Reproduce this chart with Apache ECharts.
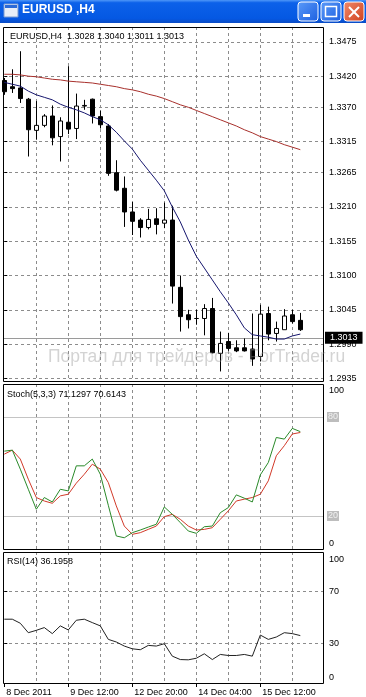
<!DOCTYPE html>
<html><head><meta charset="utf-8">
<script src="https://cdn.jsdelivr.net/npm/echarts@6/dist/echarts.min.js"></script>
<style>html,body{margin:0;padding:0;background:#fff;overflow:hidden}#c{width:366px;height:697px}</style>
</head><body><div id="c"></div>
<script>
// ---------------- data ----------------
const windowTitle = 'EURUSD ,H4';
const symbolName = 'EURUSD,H4';
const times = ['2011.12.08 04:00','2011.12.08 08:00','2011.12.08 12:00','2011.12.08 16:00','2011.12.08 20:00',
 '2011.12.09 00:00','2011.12.09 04:00','2011.12.09 08:00','2011.12.09 12:00','2011.12.09 16:00','2011.12.09 20:00',
 '2011.12.12 00:00','2011.12.12 04:00','2011.12.12 08:00','2011.12.12 12:00','2011.12.12 16:00','2011.12.12 20:00',
 '2011.12.13 00:00','2011.12.13 04:00','2011.12.13 08:00','2011.12.13 12:00','2011.12.13 16:00','2011.12.13 20:00',
 '2011.12.14 00:00','2011.12.14 04:00','2011.12.14 08:00','2011.12.14 12:00','2011.12.14 16:00','2011.12.14 20:00',
 '2011.12.15 00:00','2011.12.15 04:00','2011.12.15 08:00','2011.12.15 12:00','2011.12.15 16:00','2011.12.15 20:00',
 '2011.12.16 00:00','2011.12.16 04:00','2011.12.16 08:00'];
const opens  = [1.3413,1.3403,1.3401,1.3383,1.3333,1.3341,1.3356,1.3323,1.3346,1.3336,1.3372,1.3383,1.3355,1.3340,1.3265,1.3240,1.3202,1.3189,1.3177,1.3191,1.3184,1.3189,1.3081,1.3037,1.3031,1.3031,1.3047,1.2975,1.2994,1.2984,1.2984,1.2982,1.2970,1.3039,1.3007,1.3013,1.3037,1.3028];
const highs  = [1.3417,1.3431,1.3460,1.3385,1.3380,1.3359,1.3373,1.3354,1.3436,1.3392,1.3382,1.3384,1.3365,1.3343,1.3285,1.3259,1.3218,1.3192,1.3207,1.3208,1.3217,1.3212,1.3100,1.3045,1.3045,1.3054,1.3064,1.3010,1.3008,1.2996,1.2999,1.3039,1.3053,1.3050,1.3026,1.3046,1.3045,1.3040];
const lows   = [1.3390,1.3393,1.3377,1.3291,1.3318,1.3338,1.3309,1.3283,1.3327,1.3319,1.3366,1.3344,1.3336,1.3260,1.3235,1.3178,1.3165,1.3161,1.3174,1.3166,1.3176,1.3055,1.3010,1.3015,1.3021,1.3004,1.2975,1.2946,1.2979,1.2977,1.2978,1.2955,1.2962,1.2996,1.2994,1.3013,1.3023,1.3011];
const closes = [1.3395,1.3400,1.3384,1.3334,1.3341,1.3356,1.3321,1.3348,1.3335,1.3372,1.3373,1.3356,1.3342,1.3264,1.3237,1.3202,1.3187,1.3177,1.3190,1.3182,1.3189,1.3083,1.3034,1.3029,1.3031,1.3047,1.2976,1.2991,1.2983,1.2979,1.2979,1.2966,1.3038,1.3006,1.3015,1.3035,1.3026,1.3013];
const maFast = [1.3410,1.3407,1.3404,1.3396,1.3390,1.3386,1.3382,1.3375,1.3370,1.3366,1.3361,1.3355,1.3350,1.3342,1.3330,1.3316,1.3303,1.3285,1.3269,1.3253,1.3236,1.3210,1.3186,1.3157,1.3131,1.3112,1.3093,1.3074,1.3056,1.3037,1.3016,1.3005,1.3003,1.3001,1.2998,1.2998,1.3003,1.3006];
const maSlow = [1.3423,1.3423,1.3422,1.3420,1.3419,1.3417,1.3415,1.3414,1.3412,1.3411,1.3410,1.3409,1.3407,1.3405,1.3403,1.3400,1.3398,1.3395,1.3391,1.3388,1.3384,1.3379,1.3374,1.3370,1.3365,1.3360,1.3355,1.3350,1.3345,1.3340,1.3334,1.3329,1.3323,1.3319,1.3315,1.3310,1.3306,1.3302];
const stochK = [59.3,59.9,48.4,36.2,24.1,31.2,28.5,36.2,35.2,50.4,50.4,54.5,45.3,26.5,7.9,6.8,9.9,11.5,13.3,15.0,25.5,21.0,16.0,10.9,9.5,13.5,13.9,22.0,25.1,32.8,30.8,28.5,44.9,52.4,67.6,66.6,73.1,71.1297];
const stochD = [57.5,59.9,54.5,42.3,31.2,29.1,27.7,32.2,33.2,39.9,45.3,51.4,48.4,40.3,26.1,13.9,8.9,9.9,11.9,13.9,19.6,21.0,18.0,13.9,11.5,11.9,12.9,18.0,23.1,29.1,30.2,31.2,33.2,41.3,56.5,62.6,69.7,70.6143];
const rsi14  = [48.7,48.7,45.6,38.4,40.2,42.3,37.7,43.6,40.5,47.9,48.7,46.1,43.6,33.3,31.3,28.2,26.1,25.4,28.7,28.2,30.0,20.5,17.9,17.7,18.9,22.3,17.9,21.8,21.0,21.0,21.8,20.5,36.6,33.3,35.1,38.4,37.7,36.1958];
const priceTicks = [1.2935,1.2990,1.3045,1.3100,1.3155,1.3210,1.3265,1.3315,1.3370,1.3420,1.3475];
const stochLevels = [20, 80];
const stochLabels = [0, 100];
const rsiLevels = [30, 70];
const rsiLabels = [0, 30, 70, 100];
const gridBars = [4, 8, 12, 16, 20, 24, 28, 32, 36];
const timeTickIdx = [0, 8, 16, 24, 32];
const timeTickLabels = ['8 Dec 2011','9 Dec 12:00','12 Dec 20:00','14 Dec 04:00','15 Dec 12:00'];
const stochName = 'Stoch(5,3,3)';
const rsiName = 'RSI(14)';
const watermark = 'Портал для трейдеров - ForTrader.ru';

// ---------------- layout ----------------
const FONT = '"Liberation Sans", Arial, sans-serif';
const PL = 3, PW = 320;            // plot left/width
const P1 = {top: 27, h: 354}, P2 = {top: 384, h: 165}, P3 = {top: 552, h: 131};
const BAR = 8;                      // px per bar
const xMin = -(1.3 / BAR), xMax = xMin + PW / BAR;
const yMin = 1.293067, yMax = 1.349888;
const gridLine = {show: true, lineStyle: {color: '#8c8c8c', type: [3, 3], width: 1}};

const last = opens.length - 1;
const candleData = times.map((t, i) => [i, opens[i], closes[i], lows[i], highs[i]]);
const pairs = arr => arr.map((v, i) => [i, v]);

function hiddenX(gi) {
  return {type: 'value', gridIndex: gi, min: xMin, max: xMax, position: 'bottom',
    axisLine: {show: false}, axisLabel: {show: false},
    axisTick: {show: false, customValues: gridBars}, splitLine: gridLine};
}
const lbl = {color: '#000', fontSize: 9, fontFamily: FONT};

const option = {
  animation: false,
  backgroundColor: '#ffffff',
  grid: [
    {left: PL, width: PW, top: P1.top, height: P1.h, outerBoundsMode: 'none'},
    {left: PL, width: PW, top: P2.top, height: P2.h, outerBoundsMode: 'none'},
    {left: PL, width: PW, top: P3.top, height: P3.h, outerBoundsMode: 'none'}
  ],
  xAxis: [
    hiddenX(0), hiddenX(1), hiddenX(2),
    {type: 'value', gridIndex: 2, min: xMin, max: xMax, position: 'bottom',
      axisLine: {show: false}, splitLine: {show: false},
      axisTick: {show: true, customValues: timeTickIdx, length: 4, lineStyle: {color: '#000'}},
      axisLabel: Object.assign({customValues: timeTickIdx, align: 'left', margin: 5, padding: [0, 0, 0, 2],
        formatter: v => timeTickLabels[timeTickIdx.indexOf(Math.round(v))] || ''}, lbl)}
  ],
  yAxis: [
    {type: 'value', gridIndex: 0, position: 'right', min: yMin, max: yMax,
      axisLine: {show: false},
      axisTick: {show: true, customValues: priceTicks, length: 3, lineStyle: {color: '#000'}},
      axisLabel: Object.assign({customValues: priceTicks, margin: 6, formatter: v => v.toFixed(4)}, lbl),
      splitLine: gridLine},
    {type: 'value', gridIndex: 1, position: 'right', min: 0, max: 100,
      axisLine: {show: false}, axisTick: {show: false, customValues: stochLabels},
      axisLabel: Object.assign({customValues: stochLabels, margin: 6, padding: [2, 0, 1, 0],
        verticalAlignMaxLabel: 'top', verticalAlignMinLabel: 'bottom'}, lbl),
      splitLine: {show: false}},
    {type: 'value', gridIndex: 2, position: 'right', min: 0, max: 100,
      axisLine: {show: false},
      axisTick: {show: true, customValues: rsiLevels, length: 3, lineStyle: {color: '#000'}},
      axisLabel: Object.assign({customValues: rsiLabels, margin: 6, padding: [3, 0, 1, 0],
        verticalAlignMaxLabel: 'top', verticalAlignMinLabel: 'bottom'}, lbl),
      splitLine: gridLine}
  ],
  series: [
    {type: 'candlestick', xAxisIndex: 0, yAxisIndex: 0, barWidth: 5, z: 2,
      dimensions: ['idx', 'open', 'close', 'low', 'high'],
      encode: {x: 'idx', y: ['open', 'close', 'low', 'high']},
      data: candleData,
      itemStyle: {color: '#ffffff', color0: '#000000', borderColor: '#000000', borderColor0: '#000000', borderWidth: 1},
      markLine: {silent: true, symbol: ['none', 'none'], z: 1,
        lineStyle: {color: '#9a9a9a', type: 'solid', width: 1},
        label: {show: true, position: 'end', distance: 2, formatter: closes[last].toFixed(4),
          color: '#fff', backgroundColor: '#000', padding: [2, 5, 1, 5], fontSize: 9, fontFamily: FONT},
        data: [{yAxis: closes[last]}]}},
    {type: 'line', xAxisIndex: 0, yAxisIndex: 0, data: pairs(maSlow), showSymbol: false, z: 3,
      lineStyle: {color: '#a8302c', width: 1}},
    {type: 'line', xAxisIndex: 0, yAxisIndex: 0, data: pairs(maFast), showSymbol: false, z: 3,
      lineStyle: {color: '#16166e', width: 1}},
    {type: 'line', xAxisIndex: 1, yAxisIndex: 1, data: pairs(stochD), showSymbol: false, z: 3,
      lineStyle: {color: '#d23a2a', width: 1}},
    {type: 'line', xAxisIndex: 1, yAxisIndex: 1, data: pairs(stochK), showSymbol: false, z: 4,
      lineStyle: {color: '#2a8a2a', width: 1},
      markLine: {silent: true, symbol: ['none', 'none'], z: 1,
        lineStyle: {color: '#c4c4c4', type: 'solid', width: 1},
        label: {show: true, position: 'end', distance: 4, color: '#f2f2f2', backgroundColor: '#bdbdbd',
          padding: [1, 1, 0, 1], fontSize: 9, fontFamily: FONT},
        data: stochLevels.map(v => ({yAxis: v}))}},
    {type: 'line', xAxisIndex: 2, yAxisIndex: 2, data: pairs(rsi14), showSymbol: false, z: 3,
      lineStyle: {color: '#222222', width: 1}}
  ],
  graphic: [
    // window title bar
    {type: 'rect', z: 50, shape: {x: 0, y: 0, width: 366, height: 23},
      style: {fill: new echarts.graphic.LinearGradient(0, 0, 0, 1, [
        {offset: 0, color: '#4f97f8'}, {offset: 0.12, color: '#0c61e9'},
        {offset: 0.8, color: '#0558e3'}, {offset: 1, color: '#0a4cc6'}])}},
    {type: 'rect', z: 51, shape: {x: 4, y: 4, width: 14, height: 13},
      style: {fill: '#e8eef8', stroke: '#7a9ad0', lineWidth: 1}},
    {type: 'rect', z: 52, shape: {x: 5, y: 5, width: 12, height: 3}, style: {fill: '#2a6ad8'}},
    {type: 'text', z: 51, left: 22, top: 4,
      style: {text: windowTitle, fill: '#ffffff', font: 'bold 12px "Liberation Sans", Arial, sans-serif'}},
    // buttons
    {type: 'rect', z: 51, shape: {x: 298, y: 2, width: 20, height: 19, r: 3},
      style: {fill: new echarts.graphic.LinearGradient(0, 0, 1, 1, [{offset: 0, color: '#5b9bf9'}, {offset: 1, color: '#1c5fe0'}]), stroke: '#ffffff', lineWidth: 1}},
    {type: 'rect', z: 52, shape: {x: 303, y: 14, width: 7, height: 3}, style: {fill: '#ffffff'}},
    {type: 'rect', z: 51, shape: {x: 321, y: 2, width: 20, height: 19, r: 3},
      style: {fill: new echarts.graphic.LinearGradient(0, 0, 1, 1, [{offset: 0, color: '#5b9bf9'}, {offset: 1, color: '#1c5fe0'}]), stroke: '#ffffff', lineWidth: 1}},
    {type: 'rect', z: 52, shape: {x: 325.5, y: 6.5, width: 11, height: 10}, style: {fill: 'none', stroke: '#ffffff', lineWidth: 1.5}},
    {type: 'rect', z: 51, shape: {x: 344, y: 2, width: 20, height: 19, r: 3},
      style: {fill: new echarts.graphic.LinearGradient(0, 0, 1, 1, [{offset: 0, color: '#f08a6a'}, {offset: 1, color: '#d0401c'}]), stroke: '#ffffff', lineWidth: 1}},
    {type: 'line', z: 52, shape: {x1: 349, y1: 7, x2: 359, y2: 17}, style: {stroke: '#ffffff', lineWidth: 2}},
    {type: 'line', z: 52, shape: {x1: 359, y1: 7, x2: 349, y2: 17}, style: {stroke: '#ffffff', lineWidth: 2}},
    // pane borders
    {type: 'rect', z: 60, shape: {x: PL + 0.5, y: P1.top + 0.5, width: PW, height: P1.h}, style: {fill: 'none', stroke: '#000', lineWidth: 1}},
    {type: 'rect', z: 60, shape: {x: PL + 0.5, y: P2.top + 0.5, width: PW, height: P2.h}, style: {fill: 'none', stroke: '#000', lineWidth: 1}},
    {type: 'rect', z: 60, shape: {x: PL + 0.5, y: P3.top + 0.5, width: PW, height: P3.h}, style: {fill: 'none', stroke: '#000', lineWidth: 1}},
    // pane captions
    {type: 'text', z: 61, left: 10, top: 32,
      style: {text: symbolName + '  ' + [opens[last], highs[last], lows[last], closes[last]].map(v => v.toFixed(4)).join(' '),
        fill: '#000', font: '9px ' + FONT}},
    {type: 'text', z: 61, left: 7, top: 390,
      style: {text: stochName + ' ' + stochK[last].toFixed(4) + ' ' + stochD[last].toFixed(4), fill: '#000', font: '9px ' + FONT}},
    {type: 'text', z: 61, left: 7, top: 557,
      style: {text: rsiName + ' ' + rsi14[last].toFixed(4), fill: '#000', font: '9px ' + FONT}},
    // watermark
    {type: 'text', z: 70, left: 48, top: 348,
      style: {text: watermark, fill: 'rgba(150,150,150,0.42)', font: '17.5px ' + FONT}}
  ]
};
echarts.init(document.getElementById('c'), null, {renderer: 'canvas'}).setOption(option);
</script>
</body></html>
